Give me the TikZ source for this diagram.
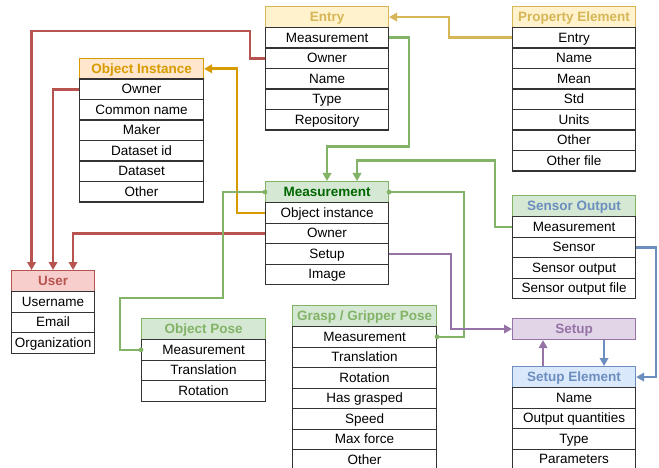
\documentclass[tikz,border=0pt]{standalone}
\usepackage{fontspec}
\setmainfont{Liberation Sans}
\usetikzlibrary{arrows.meta}
\definecolor{cgold}{HTML}{D6B656}
\definecolor{fgold}{HTML}{FFF2CC}
\definecolor{corange}{HTML}{D79B00}
\definecolor{forange}{HTML}{FFE6CC}
\definecolor{cgreen}{HTML}{82B366}
\definecolor{fgreen}{HTML}{D5E8D4}
\definecolor{dgreen}{HTML}{006600}
\definecolor{cred}{HTML}{B85450}
\definecolor{fred}{HTML}{F8CECC}
\definecolor{cpurple}{HTML}{9673A6}
\definecolor{fpurple}{HTML}{E1D5E7}
\definecolor{cblue}{HTML}{6C8EBF}
\definecolor{fblue}{HTML}{DAE8FC}
\begin{document}
\begin{tikzpicture}[x=1pt,y=-1pt,
  cell/.style={draw=black!80, fill=white, line width=1.1pt, inner sep=0pt,
    minimum height=20.5pt, anchor=north west,
    font=\fontsize{13.5}{16}\selectfont, text height=9.7pt, text depth=1pt},
  hdr/.style={draw=#1, line width=1.1pt, inner sep=0pt, minimum height=21pt,
    anchor=north west, font=\bfseries\fontsize{13.5}{16}\selectfont,
    text height=9.7pt, text depth=1pt},
  link/.style={line width=2.6pt, draw=#1, -{Triangle[length=8pt,width=8.5pt]}},
  plainlink/.style={line width=2.6pt, draw=#1},
]
\useasboundingbox (0,0) rectangle (659,468);

% Entry
\node[hdr=cgold, fill=fgold, text=cgold, minimum width=123pt] (entryh) at (265,6) {Entry};
\foreach \t [count=\i] in {Measurement,Owner,Name,Type,Repository}
  \node[cell, minimum width=123pt] (entry\i) at (265,{27+20.5*(\i-1)}) {\t};

% Property Element
\node[hdr=cgold, fill=fgold, text=cgold, minimum width=123pt] (proph) at (512,6) {Property Element};
\foreach \t [count=\i] in {Entry,Name,Mean,Std,Units,Other,Other file}
  \node[cell, minimum width=123pt] (prop\i) at (512,{27+20.5*(\i-1)}) {\t};

% Object Instance
\node[hdr=corange, fill=forange, text=corange, minimum width=124pt, minimum height=20.5pt] (oih) at (79,58) {Object Instance};
\foreach \t [count=\i] in {Owner,Common name,Maker,Dataset id,Dataset,Other}
  \node[cell, minimum width=124pt] (oi\i) at (79,{78.5+20.5*(\i-1)}) {\t};

% Measurement
\node[hdr=cgreen, fill=fgreen, text=dgreen, minimum width=123pt] (meash) at (265,181) {Measurement};
\foreach \t [count=\i] in {Object instance,Owner,Setup,Image}
  \node[cell, minimum width=123pt] (meas\i) at (265,{202+20.5*(\i-1)}) {\t};

% User
\node[hdr=cred, fill=fred, text=cred, minimum width=83pt] (userh) at (11,270) {User};
\foreach \t [count=\i] in {Username,Email,Organization}
  \node[cell, minimum width=83pt] (user\i) at (11,{291+20.5*(\i-1)}) {\t};

% Object Pose
\node[hdr=cgreen, fill=fgreen, text=cgreen, minimum width=124pt] (oph) at (141,318) {Object Pose};
\foreach \t [count=\i] in {Measurement,Translation,Rotation}
  \node[cell, minimum width=124pt] (op\i) at (141,{339+20.5*(\i-1)}) {\t};

% Grasp / Gripper Pose
\node[hdr=cgreen, fill=fgreen, text=cgreen, minimum width=144pt] (gph) at (292,305) {Grasp / Gripper Pose};
\foreach \t [count=\i] in {Measurement,Translation,Rotation,Has grasped,Speed,Max force,Other}
  \node[cell, minimum width=144pt] (gp\i) at (292,{326+20.5*(\i-1)}) {\t};

% Sensor Output
\node[hdr=cgreen, fill=fgreen, text=cblue, minimum width=123pt] (soh) at (512,195) {Sensor Output};
\foreach \t [count=\i] in {Measurement,Sensor,Sensor output,Sensor output file}
  \node[cell, minimum width=123pt] (so\i) at (512,{216+20.5*(\i-1)}) {\t};

% Setup
\node[hdr=cpurple, fill=fpurple, text=cpurple, minimum width=123pt] (setup) at (512,318) {Setup};

% Setup Element
\node[hdr=cblue, fill=fblue, text=cblue, minimum width=123pt] (seh) at (512,366) {Setup Element};
\foreach \t [count=\i] in {Name,Output quantities,Type,Parameters}
  \node[cell, minimum width=123pt] (se\i) at (512,{387+20.5*(\i-1)}) {\t};

% Connectors
\draw[link=cgold] (prop1.west) -- ++(-63,0) |- (entryh.east);
\draw[link=cred] (entry2.west) -- ++(-15,0) -- ++(0,-27.25) -| ([xshift=-21.5pt]userh.north);
\draw[link=cred] (oi1.west) -- ++(-27,0) -| (userh.north);
\draw[link=cred] (meas2.west) -| ([xshift=20pt]userh.north);
\draw[link=corange] (meas1.west) -- ++(-28,0) |- (oih.east);
\draw[link=cgreen] (entry1.east) -- ++(20,0) -- ++(0,108.75) -| (meash.north);
\draw[link=cgreen] (so1.west) -- ++(-17,0) -- ++(0,-66) -| ([xshift=30pt]meash.north);
\draw[plainlink=cgreen] (meash.east) -- ++(75,0) |- (gp1.east);
\draw[plainlink=cgreen] (meash.west) -- ++(-42,0) -- ++(0,106) -- ++(-103,0) |- (op1.west);
\fill[cgreen] (meash.east) circle (2.4pt);
\fill[cgreen] (meash.west) circle (2.4pt);
\fill[cgreen] (gp1.east) circle (2.4pt);
\fill[cgreen] (op1.west) circle (2.4pt);
\draw[link=cpurple] (meas3.east) -- ++(62,0) |- (setup.west);
\draw[link=cblue] (so2.east) -- ++(20,0) |- (seh.east);
\draw[link=cpurple] ([xshift=-31pt]seh.north) -- ([xshift=-31pt]setup.south);
\draw[link=cblue] ([xshift=30pt]setup.south) -- ([xshift=30pt]seh.north);
\end{tikzpicture}
\end{document}
